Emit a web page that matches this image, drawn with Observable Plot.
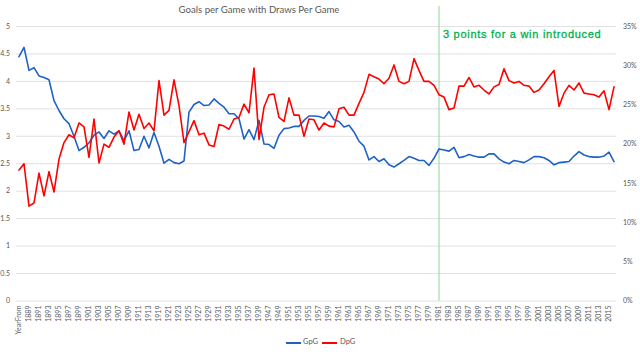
<!DOCTYPE html>
<html><head><meta charset="utf-8">
<script src="https://cdn.jsdelivr.net/npm/d3@7"></script>
<script src="https://cdn.jsdelivr.net/npm/@observablehq/plot@0.6"></script>
<style>
body{margin:0;background:#fff;}
#wrap{position:relative;width:640px;height:354px;font-family:Lato,"Open Sans",sans-serif;background:#fff;}
#title{position:absolute;left:0;width:518px;top:4px;text-align:center;font-size:9.6px;color:#595959;}
#legend{position:absolute;top:337px;left:0;width:640px;height:12px;font-size:7.5px;color:#595959;}
.lg{position:absolute;top:0;height:10px;line-height:10px;}
.sw{position:absolute;top:5px;height:2px;}
</style></head>
<body><div id="wrap"><div id="title">Goals per Game with Draws Per Game</div><div id="legend"></div></div>
<script>
const categories = ["YearFrom",
"1888","1889","1890","1891","1892","1893","1894","1895","1896","1897","1898","1899","1900","1901","1902","1903","1904","1905","1906","1907","1908","1909","1910","1911","1912","1913","1914",
"1919","1920","1921","1922","1923","1924","1925","1926","1927","1928","1929","1930","1931","1932","1933","1934","1935","1936","1937","1938","1939",
"1946","1947","1948","1949","1950","1951","1952","1953","1954","1955","1956","1957","1958","1959","1960","1961","1962","1963","1964","1965","1966","1967","1968","1969","1970","1971","1972","1973","1974","1975","1976","1977","1978","1979","1980","1981","1982","1983","1984","1985","1986","1987","1988","1989","1990","1991","1992","1993","1994","1995","1996","1997","1998","1999","2000","2001","2002","2003","2004","2005","2006","2007","2008","2009","2010","2011","2012","2013","2014","2015","2016"];

const gpg = [4.45,4.62,4.20,4.25,4.10,4.07,4.03,3.65,3.47,3.32,3.23,3.00,2.74,2.80,2.88,3.02,3.08,2.96,3.10,3.04,
3.10,2.92,3.10,2.74,2.76,3.00,2.79,3.07,2.82,2.51,2.58,2.52,2.50,2.55,3.44,3.58,3.63,3.56,3.57,3.68,
3.60,3.53,3.41,3.41,3.32,2.95,3.12,2.94,3.29,2.86,2.85,2.78,3.02,3.14,3.15,3.18,3.18,3.29,3.37,3.37,
3.36,3.33,3.45,3.30,3.27,3.17,3.20,3.08,2.91,2.82,2.57,2.63,2.54,2.59,2.48,2.44,2.50,2.56,2.63,2.60,
2.56,2.56,2.47,2.60,2.77,2.75,2.73,2.80,2.61,2.63,2.67,2.64,2.62,2.62,2.68,2.68,2.59,2.53,2.50,2.56,
2.54,2.52,2.57,2.63,2.63,2.61,2.56,2.48,2.52,2.53,2.54,2.64,2.72,2.66,2.63,2.62,2.62,2.64,2.71,2.54];

const dpgPct = [16.7,17.5,12.1,12.5,16.3,13.4,16.5,13.9,18.1,20.2,21.2,20.8,22.7,22.2,18.3,23.2,17.6,20.0,19.6,20.9,
21.7,20.0,24.1,21.8,23.8,22.0,22.7,21.7,28.1,23.7,24.3,28.2,24.9,20.2,21.6,23.0,21.2,21.4,19.9,19.7,
22.5,22.3,21.9,23.2,23.4,25.1,24.0,29.7,20.6,24.7,26.3,26.4,23.4,22.9,25.9,23.7,23.7,21.0,23.2,23.1,
21.8,22.7,22.3,22.2,24.5,24.7,23.7,23.7,25.2,26.6,28.9,28.6,28.3,27.7,28.4,30.1,28.0,27.7,28.0,30.9,
29.4,28.0,28.0,27.5,26.3,26.0,24.4,24.6,27.4,27.4,28.5,27.3,27.5,26.9,26.4,27.3,27.6,29.6,28.1,27.8,
28.0,27.5,27.4,26.6,26.9,27.7,28.6,29.4,24.8,26.5,27.5,26.9,27.8,26.5,26.4,26.3,26.0,26.8,24.4,27.3];

const leftTicks = [0,0.5,1,1.5,2,2.5,3,3.5,4,4.5,5];
const pctTicks = [0,5,10,15,20,25,30,35];
const seriesNames = ["GpG","DpG"];
const seriesColors = ["#1f62c6","#ff0000"];
const eventYear = "1981";
const eventLabel = "3 points for a win introduced";

const pctMax = 35, leftMax = 5;
const toLeft = p => p * leftMax / pctMax;

const rows = categories.map((c, i) => ({i, cat: c, gpg: gpg[i], dpg: dpgPct[i]}));
const labelIdx = categories.map((c, i) => i).filter(i => i % 2 === 0);
const eventIdx = categories.indexOf(eventYear);
const green = "#00b050";

const chart = Plot.plot({
  width: 640, height: 354,
  marginLeft: 16, marginRight: 24, marginTop: 26, marginBottom: 53.5,
  x: {domain: [-0.5, categories.length - 0.5]},
  y: {domain: [0, leftMax]},
  style: {fontFamily: "Lato, sans-serif", fontSize: "7px", color: "#595959", background: "transparent"},
  marks: [
    Plot.gridY(leftTicks, {stroke: "#d9d9d9", strokeOpacity: 1, strokeWidth: 0.8}),
    Plot.axisY(leftTicks, {anchor: "left", tickSize: 0, tickPadding: 6.5, label: null, tickFormat: d => String(d), fill: "#595959"}),
    Plot.axisY(pctTicks.map(toLeft), {anchor: "right", tickSize: 0, tickPadding: 6.5, label: null, tickFormat: v => Math.round(v * pctMax / leftMax) + "%", fill: "#595959"}),
    Plot.axisX(labelIdx, {anchor: "bottom", tickSize: 0, tickPadding: 4.5, tickRotate: -90, label: null, tickFormat: i => categories[i], fill: "#595959"}),
    Plot.ruleX([eventIdx], {stroke: "#8fd39a", strokeWidth: 1, insetTop: -20}),
    Plot.text([eventLabel], {x: eventIdx, frameAnchor: "top", textAnchor: "start", lineAnchor: "bottom", dx: 4, dy: 11.3, fill: green, stroke: green, strokeWidth: 0.3, fontSize: 11, fontFamily: "'Liberation Sans', Arial, sans-serif"}),
    Plot.line(rows, {x: "i", y: "gpg", stroke: seriesColors[0], strokeWidth: 1.6}),
    Plot.line(rows, {x: "i", y: d => toLeft(d.dpg), stroke: seriesColors[1], strokeWidth: 1.6})
  ]
});
d3.select(chart).selectAll("g[aria-label=text] text").style("letter-spacing", "0.72px");
chart.style.position = "absolute";
chart.style.left = "0"; chart.style.top = "0";
const wrap = document.getElementById("wrap");
wrap.insertBefore(chart, wrap.firstChild);

const legend = document.getElementById("legend");
const lgPos = [[286, 303], [322, 340]];
seriesNames.forEach((n, k) => {
  const sw = document.createElement("div");
  sw.className = "sw"; sw.style.left = lgPos[k][0] + "px"; sw.style.width = "15px"; sw.style.background = seriesColors[k];
  const t = document.createElement("div");
  t.className = "lg"; t.style.left = lgPos[k][1] + "px"; t.textContent = n;
  legend.appendChild(sw); legend.appendChild(t);
});
</script></body></html>
